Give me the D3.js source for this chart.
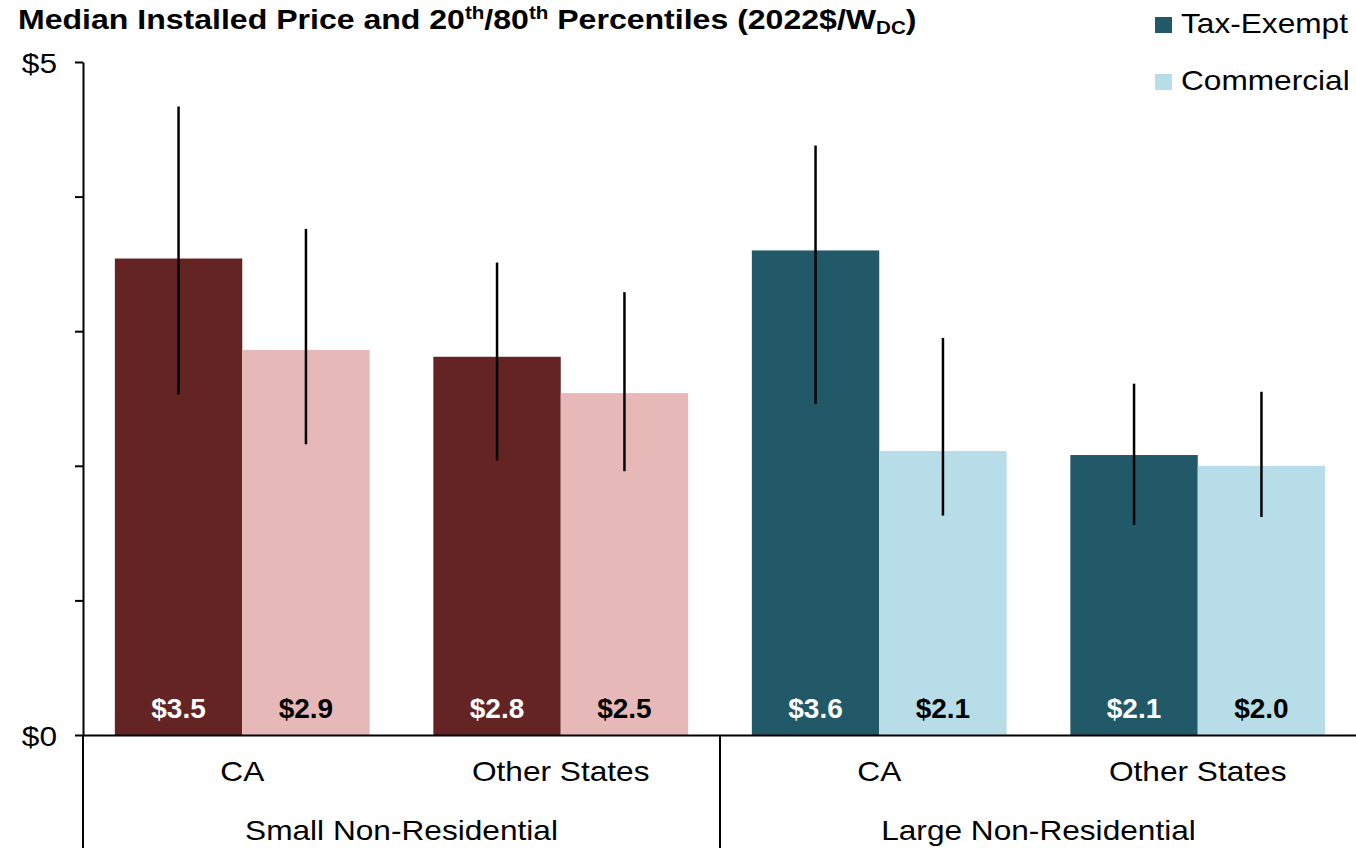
<!DOCTYPE html>
<html>
<head>
<meta charset="utf-8">
<script src="https://cdn.jsdelivr.net/npm/d3@7/dist/d3.min.js"></script>
<style>
  html, body { margin: 0; padding: 0; background: #fff; }
  svg { display: block; font-family: "Liberation Sans", Arial, sans-serif; }
</style>
</head>
<body>
<svg id="chart" width="1356" height="848"></svg>
<script>
// Median installed price with 20th/80th percentile ranges (2022$/W_DC)
const groups = ["Small Non-Residential", "Large Non-Residential"];
const locations = ["CA", "Other States", "CA", "Other States"];
const locationGroup = [0, 0, 1, 1];
const seriesNames = ["Tax-Exempt", "Commercial"];

const taxExempt = [3.54, 2.81, 3.60, 2.08];
const commercial = [2.86, 2.54, 2.11, 2.00];
const taxExemptP20 = [2.53, 2.04, 2.46, 1.56];
const taxExemptP80 = [4.67, 3.51, 4.38, 2.61];
const commercialP20 = [2.16, 1.96, 1.63, 1.62];
const commercialP80 = [3.76, 3.29, 2.95, 2.55];

const yTicks = [0, 1, 2, 3, 4, 5];
const yTickLabels = ["$0", "", "", "", "", "$5"];

// palette per size group: [tax-exempt, commercial]
const groupColors = [["#632423", "#e6b8b7"], ["#215968", "#b7dee8"]];
const legendColors = ["#215968", "#b7dee8"];

const svg = d3.select("#chart");
const X_STRETCH = 1.13;
const FONT = 28;

const y = d3.scaleLinear().domain([0, 5]).range([735, 62]);
const x = d3.scaleBand().domain(d3.range(locations.length))
  .range([83, 1357]).paddingInner(0.2).paddingOuter(0.1);
const xs = d3.scaleBand().domain(seriesNames).range([0, x.bandwidth()]);

function stretchedText(sel, tx, ty, k = X_STRETCH) {
  return sel.attr("x", 0).attr("y", 0)
    .attr("transform", `translate(${tx},${ty}) scale(${k},1)`);
}

// rows: one per bar
const rows = [];
locations.forEach((loc, i) => {
  const g = locationGroup[i];
  rows.push({ i, series: "Tax-Exempt", v: taxExempt[i], lo: taxExemptP20[i], hi: taxExemptP80[i], color: groupColors[g][0], dark: true });
  rows.push({ i, series: "Commercial", v: commercial[i], lo: commercialP20[i], hi: commercialP80[i], color: groupColors[g][1], dark: false });
});

// bars
svg.append("g").selectAll("rect").data(rows).join("rect")
  .attr("x", d => x(d.i) + xs(d.series))
  .attr("y", d => y(d.v))
  .attr("width", xs.bandwidth())
  .attr("height", d => y(0) - y(d.v))
  .attr("fill", d => d.color);

// percentile ranges
svg.append("g").selectAll("line").data(rows).join("line")
  .attr("x1", d => x(d.i) + xs(d.series) + xs.bandwidth() / 2)
  .attr("x2", d => x(d.i) + xs(d.series) + xs.bandwidth() / 2)
  .attr("y1", d => y(d.hi))
  .attr("y2", d => y(d.lo))
  .attr("stroke", "#000")
  .attr("stroke-width", 2.5);

// value labels
svg.append("g").selectAll("text").data(rows).join("text")
  .attr("text-anchor", "middle")
  .attr("font-weight", "bold")
  .attr("font-size", FONT)
  .attr("fill", d => d.dark ? "#fff" : "#000")
  .text(d => "$" + d3.format(".1f")(d.v))
  .each(function(d) {
    stretchedText(d3.select(this), x(d.i) + xs(d.series) + xs.bandwidth() / 2, 718, 1.0);
  });

// y axis
const yAxis = svg.append("g").attr("transform", "translate(83,0)")
  .call(d3.axisLeft(y).tickValues(yTicks).tickSize(8).tickSizeOuter(0)
    .tickFormat((d, i) => yTickLabels[i]));
yAxis.select(".domain").attr("stroke", "#000").attr("stroke-width", 2);
yAxis.selectAll(".tick line").attr("stroke", "#000").attr("stroke-width", 2);
yAxis.selectAll(".tick text")
  .attr("font-size", FONT).attr("font-family", "Liberation Sans, Arial, sans-serif")
  .attr("fill", "#000").attr("dy", null)
  .attr("x", 0).attr("transform", `translate(-26,10) scale(${X_STRETCH},1)`);

// x axis with location labels
const xAxis = svg.append("g").attr("transform", "translate(0,735)")
  .call(d3.axisBottom(x).tickSize(0).tickSizeOuter(0).tickFormat(i => locations[i]));
xAxis.select(".domain").attr("stroke", "#000").attr("stroke-width", 2);
xAxis.selectAll(".tick text")
  .attr("font-size", FONT).attr("font-family", "Liberation Sans, Arial, sans-serif")
  .attr("fill", "#000").attr("dy", null).attr("y", 0)
  .attr("transform", `translate(0,46) scale(${X_STRETCH},1)`);

// group separators below the axis
const sepX = (x(1) + x.bandwidth() + x(2)) / 2;
const seps = [83, sepX];
svg.append("g").selectAll("line").data(seps).join("line")
  .attr("x1", d => d).attr("x2", d => d)
  .attr("y1", 735).attr("y2", 848)
  .attr("stroke", "#000").attr("stroke-width", 2);

// group labels
const groupBounds = [[83, sepX], [sepX, x.range()[1]]];
svg.append("g").selectAll("text").data(groups).join("text")
  .attr("text-anchor", "middle")
  .attr("font-size", FONT)
  .text(d => d)
  .each(function(d, i) {
    stretchedText(d3.select(this), (groupBounds[i][0] + groupBounds[i][1]) / 2, 840);
  });

// title with superscripts and subscript
const title = svg.append("text").attr("font-weight", "bold").attr("font-size", FONT);
stretchedText(title, 18, 29, 1.145);
title.append("tspan").text("Median Installed Price and 20");
title.append("tspan").attr("font-size", 18).attr("dy", -10).text("th");
title.append("tspan").attr("dy", 10).text("/80");
title.append("tspan").attr("font-size", 18).attr("dy", -10).text("th");
title.append("tspan").attr("dy", 10).text(" Percentiles (2022$/W");
title.append("tspan").attr("font-size", 18).attr("dy", 5).text("DC");
title.append("tspan").attr("dy", -5).text(")");

// legend
const legend = svg.append("g").selectAll("g").data(seriesNames).join("g")
  .attr("transform", (d, i) => `translate(1155,${17 + i * 57})`);
legend.append("rect").attr("width", 17).attr("height", 16)
  .attr("fill", (d, i) => legendColors[i]);
legend.append("text").attr("font-size", FONT).text(d => d)
  .each(function() { stretchedText(d3.select(this), 26, 16); });
</script>
</body>
</html>
